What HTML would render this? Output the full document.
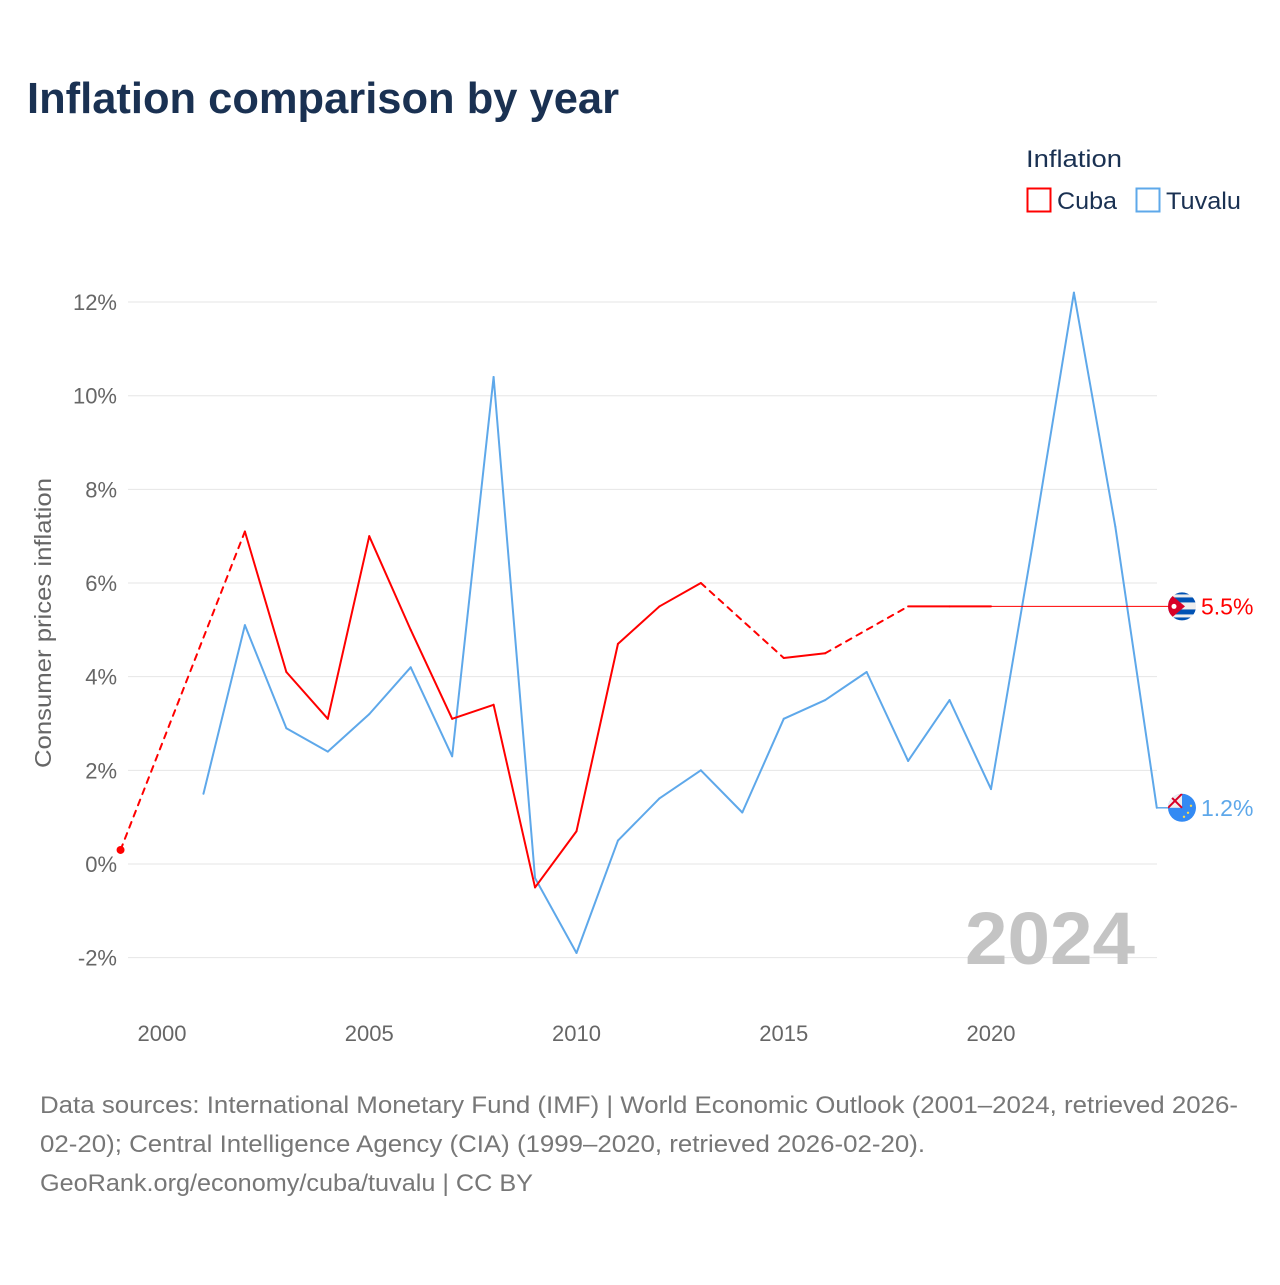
<!DOCTYPE html>
<html><head><meta charset="utf-8"><style>
body{margin:0;background:#fff;}
svg text{font-family:"Liberation Sans",sans-serif;}
</style></head><body>
<svg id="chart" width="1280" height="1280" viewBox="0 0 1280 1280" xmlns="http://www.w3.org/2000/svg">
<defs>
<clipPath id="clipC"><circle cx="1182" cy="606.4" r="14"/></clipPath>
<clipPath id="clipT"><circle cx="1182" cy="807.8" r="14"/></clipPath>
</defs>
<rect width="1280" height="1280" fill="#fff"/>
<text x="27" y="113" font-size="44" font-weight="bold" fill="#1a3152" textLength="592" lengthAdjust="spacingAndGlyphs">Inflation comparison by year</text>
<text x="1026" y="167" font-size="24" fill="#1a3152" textLength="96" lengthAdjust="spacingAndGlyphs">Inflation</text>
<g>
<rect x="1027.5" y="188.5" width="23" height="23" fill="none" stroke="#ff0000" stroke-width="2"/>
<text x="1057" y="209" font-size="24" fill="#1a3152" textLength="60" lengthAdjust="spacingAndGlyphs">Cuba</text></g>
<g>
<rect x="1136.5" y="188.5" width="23" height="23" fill="none" stroke="#5ea8ea" stroke-width="2"/>
<text x="1166" y="209" font-size="24" fill="#1a3152" textLength="75" lengthAdjust="spacingAndGlyphs">Tuvalu</text></g>
<g id="grid"></g><g id="axes"></g><g id="series"></g>
<text transform="translate(51,623) rotate(-90)" text-anchor="middle" font-size="23" fill="#666" textLength="290" lengthAdjust="spacingAndGlyphs">Consumer prices inflation</text>
<text x="1135" y="964" text-anchor="end" font-size="74" font-weight="bold" fill="#c4c4c4" textLength="170" lengthAdjust="spacingAndGlyphs">2024</text>
<g font-size="24" fill="#777">
<text x="40" y="1113" textLength="1198" lengthAdjust="spacingAndGlyphs">Data sources: International Monetary Fund (IMF) | World Economic Outlook (2001–2024, retrieved 2026-</text>
<text x="40" y="1152" textLength="885" lengthAdjust="spacingAndGlyphs">02-20); Central Intelligence Agency (CIA) (1999–2020, retrieved 2026-02-20).</text>
<text x="40" y="1191" textLength="493" lengthAdjust="spacingAndGlyphs">GeoRank.org/economy/cuba/tuvalu | CC BY</text>
</g>
</svg>
<script>
const yTicks=[-2,0,2,4,6,8,10,12];
const xTicks=[2000,2005,2010,2015,2020];
const cubaYears=[1999,2002,2003,2004,2005,2006,2007,2008,2009,2010,2011,2012,2013,2015,2016,2018,2019,2020];
const cubaValues=[0.3,7.1,4.1,3.1,7.0,5.0,3.1,3.4,-0.5,0.7,4.7,5.5,6.0,4.4,4.5,5.5,5.5,5.5];
const tuvaluYears=[2001,2002,2003,2004,2005,2006,2007,2008,2009,2010,2011,2012,2013,2014,2015,2016,2017,2018,2019,2020,2021,2022,2023,2024];
const tuvaluValues=[1.5,5.1,2.9,2.4,3.2,4.2,2.3,10.4,-0.3,-1.9,0.5,1.4,2.0,1.1,3.1,3.5,4.1,2.2,3.5,1.6,6.8,12.2,7.2,1.2];
const cubaLatest=5.5, tuvaluLatest=1.2;
const NS='http://www.w3.org/2000/svg';
const xS=y=>162+(y-2000)*41.45;
const yS=v=>864-v*46.83;
function mk(t,a,p){const e=document.createElementNS(NS,t);for(const k in a)e.setAttribute(k,a[k]);p.appendChild(e);return e;}
const grid=document.getElementById('grid'),axes=document.getElementById('axes'),ser=document.getElementById('series');
yTicks.forEach(v=>{
 const l=mk('line',{x1:128,x2:1157,y1:yS(v),y2:yS(v),stroke:'#e6e6e6','stroke-width':1},grid);
 
 
 const t=mk('text',{x:117,y:yS(v)+8,'text-anchor':'end','font-size':22,fill:'#666'},axes);
 t.textContent=v+'%';
 
 
});
xTicks.forEach(y=>{
 const t=mk('text',{x:xS(y),y:1041,'text-anchor':'middle','font-size':22,fill:'#666'},axes);
 t.textContent=y;
 
 
});
function drawSeries(years,vals,color,name){
 for(let i=1;i<years.length;i++){
  const gap=years[i]-years[i-1]>1;
  const a={x1:xS(years[i-1]),y1:yS(vals[i-1]),x2:xS(years[i]),y2:yS(vals[i]),stroke:color,'stroke-width':2,'stroke-linecap':'round'};
  if(gap)a['stroke-dasharray']='6,6';
  const l=mk('line',a,ser);
  
  
 }
}
drawSeries(tuvaluYears,tuvaluValues,'#5ea8ea','tuvalu');
drawSeries(cubaYears,cubaValues,'#ff0000','cuba');
const d=mk('circle',{cx:xS(cubaYears[0]),cy:yS(cubaValues[0]),r:4,fill:'#ff0000'},ser);


const lc=cubaYears.length-1, lt=tuvaluYears.length-1;
const c1=mk('line',{x1:xS(cubaYears[lc]),y1:yS(cubaLatest),x2:1170,y2:yS(cubaLatest),stroke:'#ff0000','stroke-width':1},ser);


const c2=mk('line',{x1:xS(tuvaluYears[lt]),y1:yS(tuvaluLatest),x2:1170,y2:yS(tuvaluLatest),stroke:'#5ea8ea','stroke-width':1.5},ser);


function flagCuba(cy){
 const g=mk('g',{'clip-path':'url(#clipC)'},ser);
 
 
 mk('rect',{x:1166,y:cy-16,width:32,height:32,fill:'#eee'},g);
 mk('rect',{x:1166,y:cy-9,width:32,height:5,fill:'#0052b4'},g);
 mk('rect',{x:1166,y:cy+3,width:32,height:5,fill:'#0052b4'},g);
 mk('rect',{x:1166,y:cy-16,width:32,height:4,fill:'#0052b4'},g);
 mk('rect',{x:1166,y:cy+11,width:32,height:5,fill:'#0052b4'},g);
 mk('path',{d:`M1166 ${cy-16} L1185 ${cy} L1166 ${cy+16} Z`,fill:'#d80027'},g);
 mk('circle',{cx:1174,cy:cy,r:2.5,fill:'#fff'},g);
}
function flagTuvalu(cy){
 const g=mk('g',{'clip-path':'url(#clipT)'},ser);
 
 
 mk('rect',{x:1166,y:cy-16,width:32,height:32,fill:'#338af3'},g);
 mk('rect',{x:1168,y:cy-14,width:14,height:14,fill:'#eee'},g);
 mk('path',{d:`M1168 ${cy-14} L1182 ${cy} M1182 ${cy-14} L1168 ${cy}`,stroke:'#d80027','stroke-width':2},g);
 mk('circle',{cx:1188,cy:cy+5,r:1.2,fill:'#ffda44'},g);
 mk('circle',{cx:1191,cy:cy-2,r:1.2,fill:'#ffda44'},g);
 mk('circle',{cx:1184,cy:cy+9,r:1.2,fill:'#ffda44'},g);
}
flagCuba(yS(cubaLatest));
flagTuvalu(yS(tuvaluLatest));
const t1=mk('text',{x:1201,y:yS(cubaLatest)+8,'font-size':23,fill:'#ff0000'},ser);
t1.textContent=cubaLatest.toFixed(1)+'%';


const t2=mk('text',{x:1201,y:yS(tuvaluLatest)+8,'font-size':23,fill:'#5ea8ea'},ser);
t2.textContent=tuvaluLatest.toFixed(1)+'%';


</script>
</body></html>
